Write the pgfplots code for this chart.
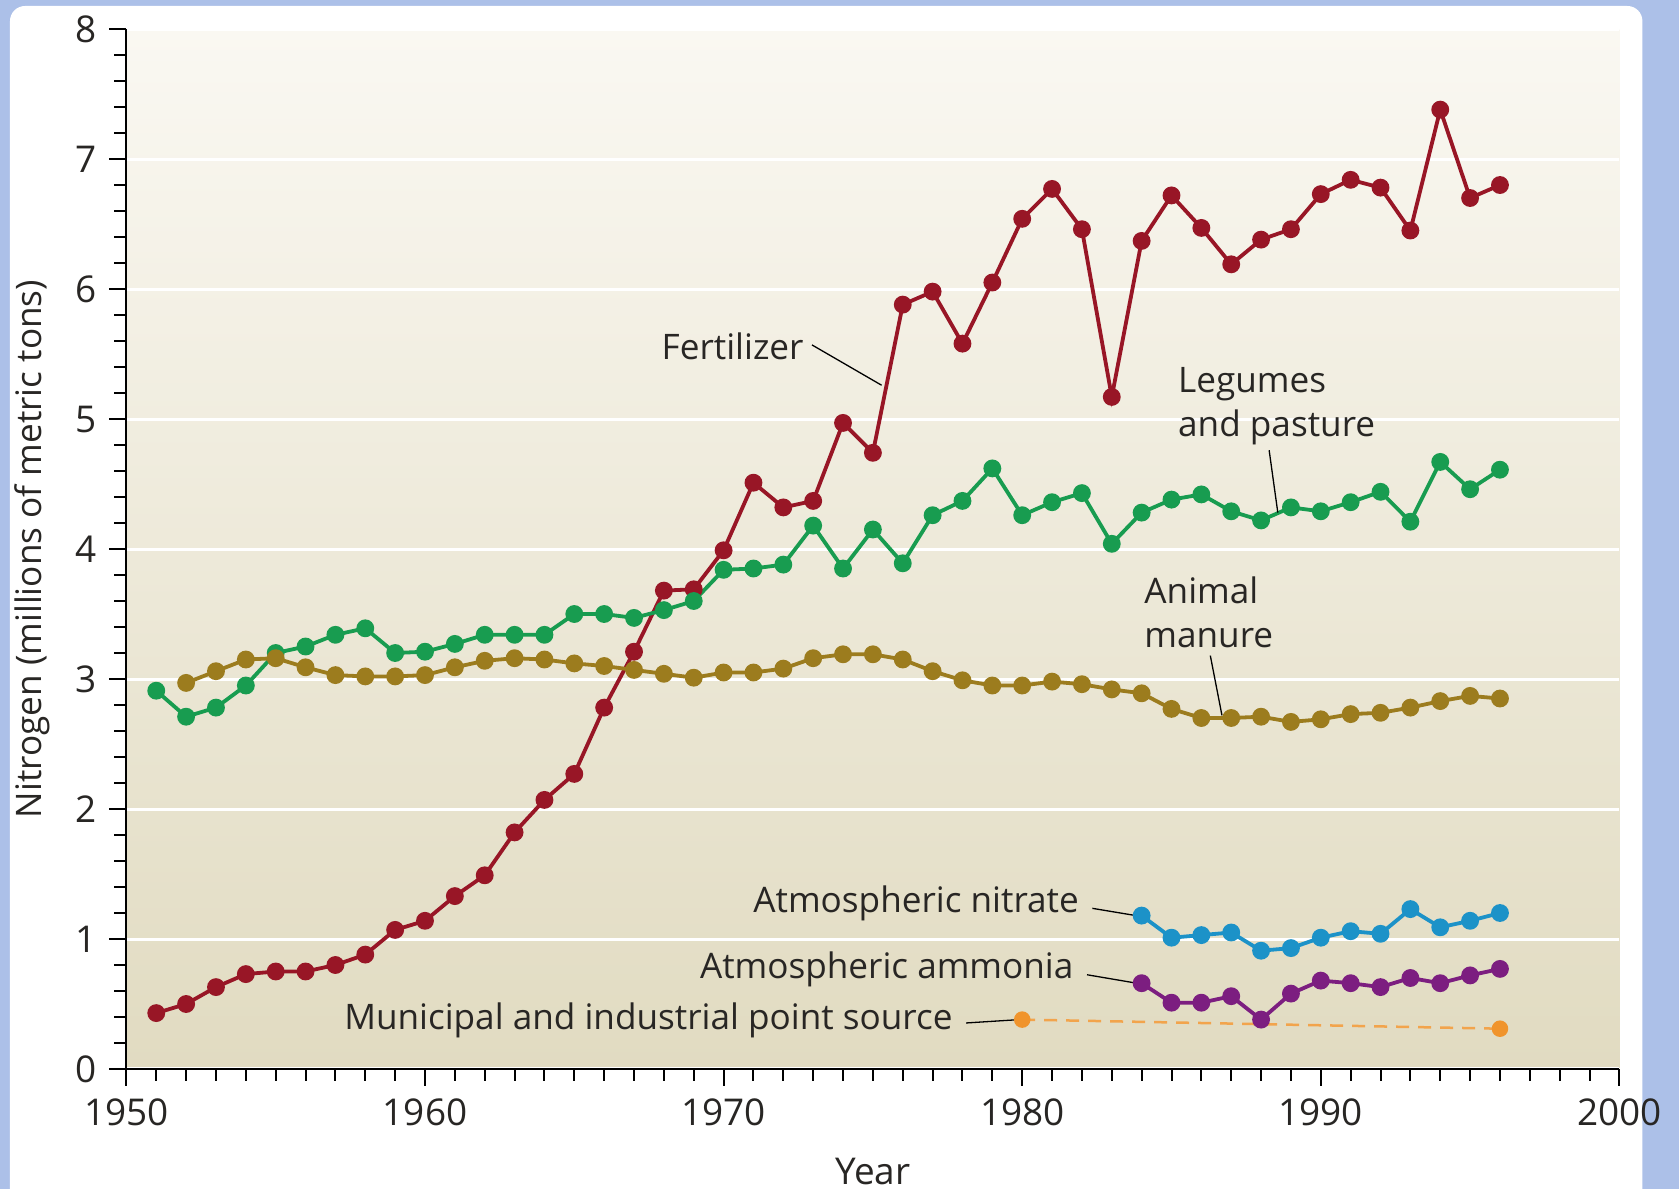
\documentclass[border=0pt]{standalone}
\usepackage{pgfplots}
\pgfplotsset{compat=1.18}
\usepackage{fontspec}
\setmainfont{Open Sans}
\definecolor{fert}{RGB}{152,22,38}
\definecolor{legu}{RGB}{24,156,80}
\definecolor{manu}{RGB}{156,124,30}
\definecolor{nitr}{RGB}{28,146,200}
\definecolor{ammo}{RGB}{124,30,128}
\definecolor{muni}{RGB}{240,148,44}
\definecolor{txt}{RGB}{40,38,36}
\definecolor{frame}{RGB}{172,192,232}
\definecolor{bgtop}{RGB}{250,248,242}
\definecolor{bgmid}{RGB}{237,232,214}
\definecolor{bgbot}{RGB}{225,219,193}

\begin{document}
\begin{tikzpicture}
\useasboundingbox (-12.64mm,-12mm) rectangle (155.26mm,106.9mm);
\fill[frame] (-12.64mm,-12mm) rectangle (155.26mm,106.9mm);
\fill[white, rounded corners=1.5mm] (-11.64mm,-14mm) rectangle (151.6mm,106.3mm);
\begin{axis}[
  scale only axis,
  width=149.3mm, height=104.0mm,
  xmin=1950, xmax=2000, ymin=0, ymax=8,
  clip=false,
  axis x line*=bottom, axis y line*=left,
  axis line style={line width=0.22mm, black},
  axis background/.style={top color=bgtop, middle color=bgmid, bottom color=bgbot},
  xtick={1950,1960,...,2000}, minor x tick num=9,
  ytick={0,...,8}, minor y tick num=4,
  tick align=outside,
  major tick length=1.7mm, minor tick length=1.2mm,
  every tick/.style={black, line width=0.2mm},
  ymajorgrids,
  major grid style={white, line width=0.3mm},
  /pgf/number format/assume math mode=true,
  /pgf/number format/1000 sep={},
  ticklabel style={font=\fontsize{10.5}{12}\selectfont, text=txt},
  every axis plot/.append style={line width=0.38mm, mark=*, mark size=0.7mm},
]
\addplot[fert, mark options={fill=fert}] coordinates {
(1951,0.43)(1952,0.50)(1953,0.63)(1954,0.73)(1955,0.75)(1956,0.75)(1957,0.80)(1958,0.88)
(1959,1.07)(1960,1.14)(1961,1.33)(1962,1.49)(1963,1.82)(1964,2.07)(1965,2.27)(1966,2.78)
(1967,3.21)(1968,3.68)(1969,3.69)(1970,3.99)(1971,4.51)(1972,4.32)(1973,4.37)(1974,4.97)
(1975,4.74)(1976,5.88)(1977,5.98)(1978,5.58)(1979,6.05)(1980,6.54)(1981,6.77)(1982,6.46)
(1983,5.17)(1984,6.37)(1985,6.72)(1986,6.47)(1987,6.19)(1988,6.38)(1989,6.46)(1990,6.73)
(1991,6.84)(1992,6.78)(1993,6.45)(1994,7.38)(1995,6.70)(1996,6.80)};
\addplot[legu, mark options={fill=legu}] coordinates {
(1951,2.91)(1952,2.71)(1953,2.78)(1954,2.95)(1955,3.20)(1956,3.25)(1957,3.34)(1958,3.39)
(1959,3.20)(1960,3.21)(1961,3.27)(1962,3.34)(1963,3.34)(1964,3.34)(1965,3.50)(1966,3.50)
(1967,3.47)(1968,3.53)(1969,3.60)(1970,3.84)(1971,3.85)(1972,3.88)(1973,4.18)(1974,3.85)
(1975,4.15)(1976,3.89)(1977,4.26)(1978,4.37)(1979,4.62)(1980,4.26)(1981,4.36)(1982,4.43)
(1983,4.04)(1984,4.28)(1985,4.38)(1986,4.42)(1987,4.29)(1988,4.22)(1989,4.32)(1990,4.29)
(1991,4.36)(1992,4.44)(1993,4.21)(1994,4.67)(1995,4.46)(1996,4.61)};
\addplot[manu, mark options={fill=manu}] coordinates {
(1952,2.97)(1953,3.06)(1954,3.15)(1955,3.16)(1956,3.09)(1957,3.03)(1958,3.02)(1959,3.02)
(1960,3.03)(1961,3.09)(1962,3.14)(1963,3.16)(1964,3.15)(1965,3.12)(1966,3.10)(1967,3.07)
(1968,3.04)(1969,3.01)(1970,3.05)(1971,3.05)(1972,3.08)(1973,3.16)(1974,3.19)(1975,3.19)
(1976,3.15)(1977,3.06)(1978,2.99)(1979,2.95)(1980,2.95)(1981,2.98)(1982,2.96)(1983,2.92)
(1984,2.89)(1985,2.77)(1986,2.70)(1987,2.70)(1988,2.71)(1989,2.67)(1990,2.69)(1991,2.73)
(1992,2.74)(1993,2.78)(1994,2.83)(1995,2.87)(1996,2.85)};
\addplot[nitr, mark options={fill=nitr}] coordinates {
(1984,1.18)(1985,1.01)(1986,1.03)(1987,1.05)(1988,0.91)(1989,0.93)(1990,1.01)
(1991,1.06)(1992,1.04)(1993,1.23)(1994,1.09)(1995,1.14)(1996,1.20)};
\addplot[ammo, mark options={fill=ammo}] coordinates {
(1984,0.66)(1985,0.51)(1986,0.51)(1987,0.56)(1988,0.38)(1989,0.58)(1990,0.68)
(1991,0.66)(1992,0.63)(1993,0.70)(1994,0.66)(1995,0.72)(1996,0.77)};
\addplot[muni!85!white, line width=0.25mm, dash pattern=on 1.3mm off 0.9mm, mark options={solid, fill=muni, draw=muni}] coordinates {
(1980,0.38)(1996,0.31)};

% annotations
\tikzset{lab/.style={font=\fontsize{10}{12.5}\selectfont, text=txt, inner sep=0pt}, lead/.style={black, line width=0.13mm}}
\node[lab, anchor=east] at (axis cs:1972.7,5.56) {Fertilizer};
\draw[lead] (axis cs:1972.96,5.57) -- (axis cs:1975.29,5.26);
\node[lab, anchor=north west, align=left] at (axis cs:1985.2,5.40) {Legumes\\and pasture};
\draw[lead] (axis cs:1988.27,4.76) -- (axis cs:1988.56,4.28);
\node[lab, anchor=north west, align=left] at (axis cs:1984.07,3.79) {Animal\\manure};
\draw[lead] (axis cs:1986.30,3.18) -- (axis cs:1986.69,2.72);
\node[lab, anchor=east] at (axis cs:1981.92,1.277) {Atmospheric nitrate};
\draw[lead] (axis cs:1982.35,1.236) -- (axis cs:1983.86,1.178);
\node[lab, anchor=east] at (axis cs:1981.74,0.766) {Atmospheric ammonia};
\draw[lead] (axis cs:1982.17,0.725) -- (axis cs:1983.86,0.659);
\node[lab, anchor=east] at (axis cs:1977.69,0.371) {Municipal and industrial point source};
\draw[lead] (axis cs:1978.12,0.354) -- (axis cs:1979.84,0.379);

\node[lab, font=\fontsize{10.5}{12}\selectfont] at ([yshift=-10.3mm]rel axis cs:0.5,0) {Year};
\node[lab, font=\fontsize{10}{12}\selectfont, rotate=90] at ([xshift=-9.4mm]rel axis cs:0,0.5) {Nitrogen (millions of metric tons)};
\end{axis}
\end{tikzpicture}
\end{document}
